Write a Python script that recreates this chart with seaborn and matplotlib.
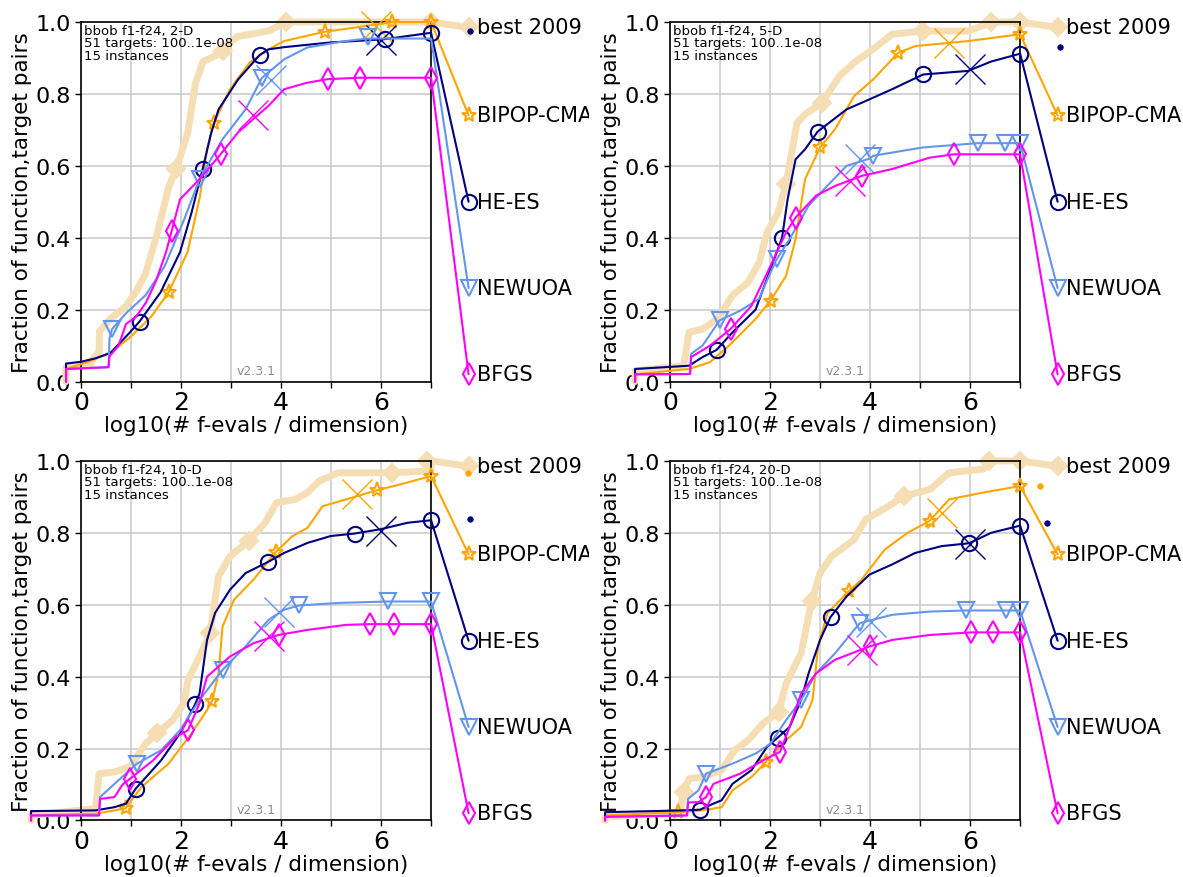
import pandas as pd
import matplotlib
matplotlib.use("Agg")
import matplotlib.pyplot as plt
import seaborn as sns
from matplotlib.transforms import Bbox, TransformedBbox

# ---------------------------------------------------------------------------
# ECDF curves: (log10(#f-evals / dim), fraction) pairs
# ---------------------------------------------------------------------------

# ---- 2-D
best_2d = [(-0.3, 0.0), (-0.3, 0.04), (0.2, 0.05), (0.27, 0.07), (0.36, 0.08), (0.37, 0.14),
           (0.59, 0.175), (0.9, 0.21), (1.1, 0.25), (1.29, 0.30), (1.52, 0.41), (1.75, 0.54),
           (1.9, 0.59), (2.13, 0.69), (2.29, 0.83), (2.44, 0.89), (2.75, 0.91), (2.85, 0.93),
           (3.14, 0.96), (3.75, 0.975), (4.1, 1.0), (7.0, 1.0)]
best_2d_marks = [(1.9, 0.59), (2.83, 0.92), (4.1, 1.0), (7.0, 1.0)]

bipop_2d = [(-0.3, 0.0), (-0.3, 0.035), (0.13, 0.054), (0.59, 0.08), (0.98, 0.123), (1.4, 0.18),
            (1.75, 0.248), (2.13, 0.36), (2.37, 0.51), (2.52, 0.646), (2.65, 0.718), (2.98, 0.813),
            (3.37, 0.887), (3.75, 0.924), (4.06, 0.947), (4.88, 0.973), (5.76, 0.99), (6.22, 1.0),
            (7.0, 1.0)]
bipop_2d_marks = [(1.75, 0.248), (2.65, 0.718), (4.88, 0.973), (6.22, 1.0), (7.0, 1.0)]
bipop_2d_cross = (5.9, 0.99)

hees_2d = [(-0.3, 0.0), (-0.3, 0.05), (0.0, 0.055), (0.3, 0.065), (0.59, 0.08), (0.98, 0.137),
           (1.17, 0.167), (1.59, 0.248), (1.98, 0.36), (2.21, 0.47), (2.43, 0.59), (2.6, 0.69),
           (2.75, 0.757), (3.14, 0.84), (3.57, 0.908), (3.75, 0.924), (4.06, 0.93), (4.98, 0.943),
           (6.06, 0.952), (7.0, 0.97)]
hees_2d_marks = [(1.17, 0.167), (2.43, 0.59), (3.57, 0.908), (6.08, 0.954), (7.0, 0.97)]
hees_2d_cross = (6.0, 0.95)

newuoa_2d = [(-0.3, 0.0), (-0.3, 0.035), (0.55, 0.04), (0.57, 0.12), (0.62, 0.146), (0.9, 0.19),
             (1.29, 0.24), (1.67, 0.32), (2.06, 0.45), (2.37, 0.563), (2.83, 0.674), (3.29, 0.757),
             (3.62, 0.845), (4.06, 0.896), (4.52, 0.929), (5.29, 0.947), (5.73, 0.954), (7.0, 0.954)]
newuoa_2d_marks = [(0.62, 0.146), (2.37, 0.563), (3.62, 0.845), (5.73, 0.959)]
newuoa_2d_cross = (3.8, 0.84)

bfgs_2d = [(-0.3, 0.0), (-0.3, 0.035), (0.55, 0.04), (0.57, 0.07), (0.75, 0.1), (0.8, 0.12),
           (0.9, 0.16), (1.1, 0.18), (1.3, 0.22), (1.5, 0.28), (1.7, 0.36), (1.81, 0.418),
           (1.98, 0.507), (2.37, 0.563), (2.79, 0.632), (3.14, 0.693), (3.75, 0.767), (4.06, 0.813),
           (4.52, 0.831), (4.93, 0.841), (5.57, 0.845), (7.0, 0.845)]
bfgs_2d_marks = [(1.81, 0.418), (2.79, 0.632), (4.93, 0.841), (5.57, 0.845), (7.0, 0.845)]
bfgs_2d_cross = (3.44, 0.74)

dots_2d = [("navy", 7.77, 0.974)]

# ---- 5-D
best_5d = [(-0.7, 0.0), (-0.7, 0.03), (0.27, 0.044), (0.38, 0.137), (0.65, 0.146), (0.95, 0.174),
           (1.25, 0.24), (1.56, 0.276), (1.78, 0.33), (1.94, 0.415), (2.16, 0.47), (2.32, 0.549),
           (2.54, 0.72), (2.7, 0.743), (3.04, 0.776), (3.39, 0.85), (3.68, 0.887), (4.06, 0.924),
           (4.44, 0.966), (5.05, 0.975), (5.96, 0.975), (6.26, 0.99), (6.42, 1.0), (7.0, 1.0)]
best_5d_marks = [(2.32, 0.549), (3.04, 0.776), (5.05, 0.975), (6.42, 1.0), (7.0, 1.0)]

bipop_5d = [(-0.7, 0.0), (-0.7, 0.02), (0.38, 0.035), (0.8, 0.054), (1.18, 0.1), (1.71, 0.174),
            (2.01, 0.225), (2.32, 0.294), (2.51, 0.396), (2.7, 0.563), (3.0, 0.651), (3.3, 0.702),
            (3.68, 0.794), (4.06, 0.84), (4.56, 0.914), (4.9, 0.933), (5.96, 0.947), (7.0, 0.966)]
bipop_5d_marks = [(2.01, 0.225), (3.0, 0.651), (4.56, 0.914), (7.0, 0.966)]
bipop_5d_cross = (5.58, 0.942)

hees_5d = [(-0.7, 0.0), (-0.7, 0.035), (0.38, 0.044), (0.65, 0.068), (0.93, 0.088), (1.25, 0.137),
           (1.71, 0.2), (2.01, 0.313), (2.24, 0.4), (2.35, 0.506), (2.51, 0.618), (2.7, 0.646),
           (2.95, 0.695), (3.53, 0.757), (3.99, 0.785), (4.44, 0.813), (5.06, 0.854), (5.96, 0.864),
           (6.42, 0.89), (6.95, 0.91), (7.0, 0.912)]
hees_5d_marks = [(0.93, 0.088), (2.24, 0.4), (2.95, 0.695), (5.06, 0.854), (7.0, 0.912)]
hees_5d_cross = (6.0, 0.87)

newuoa_5d = [(-0.7, 0.0), (-0.7, 0.02), (0.4, 0.021), (0.42, 0.077), (0.65, 0.1), (0.99, 0.17),
             (1.4, 0.197), (1.78, 0.23), (2.01, 0.304), (2.13, 0.34), (2.39, 0.396), (2.77, 0.489),
             (3.08, 0.535), (3.53, 0.6), (3.99, 0.62), (4.06, 0.628), (5.05, 0.651), (6.15, 0.663),
             (7.0, 0.663)]
newuoa_5d_marks = [(0.99, 0.17), (2.13, 0.34), (4.06, 0.628), (6.15, 0.663), (6.7, 0.663), (7.0, 0.663)]
newuoa_5d_cross = (3.8, 0.62)

bfgs_5d = [(-0.7, 0.0), (-0.7, 0.02), (0.4, 0.021), (0.42, 0.068), (0.8, 0.1), (1.21, 0.146),
           (1.63, 0.211), (2.01, 0.322), (2.32, 0.415), (2.51, 0.456), (2.92, 0.517), (3.3, 0.544),
           (3.83, 0.572), (4.44, 0.591), (5.2, 0.623), (5.68, 0.632), (7.0, 0.632)]
bfgs_5d_marks = [(1.21, 0.146), (2.51, 0.456), (3.83, 0.572), (5.68, 0.632), (7.0, 0.632)]
bfgs_5d_cross = (3.6, 0.558)

dots_5d = [("navy", 7.8, 0.93)]

# ---- 10-D
best_10d = [(-1.0, 0.0), (-1.0, 0.014), (0.29, 0.033), (0.36, 0.13), (0.67, 0.135), (0.98, 0.149),
            (1.29, 0.214), (1.52, 0.242), (1.83, 0.279), (2.06, 0.326), (2.14, 0.391), (2.37, 0.456),
            (2.58, 0.521), (2.75, 0.679), (2.98, 0.735), (3.35, 0.777), (3.68, 0.828), (3.91, 0.884),
            (4.29, 0.893), (4.53, 0.912), (4.76, 0.944), (5.14, 0.967), (6.22, 0.967), (7.0, 0.972),
            (7.0, 1.0)]
best_10d_marks = [(1.52, 0.242), (2.58, 0.521), (3.35, 0.777), (6.22, 0.967), (6.92, 1.0)]

bipop_10d = [(-1.0, 0.0), (-1.0, 0.014), (0.29, 0.019), (0.67, 0.028), (0.89, 0.034), (1.21, 0.093),
             (1.75, 0.158), (2.21, 0.242), (2.52, 0.307), (2.62, 0.332), (2.75, 0.409), (2.83, 0.54),
             (3.06, 0.614), (3.45, 0.67), (3.89, 0.746), (4.22, 0.79), (4.53, 0.814), (4.83, 0.874),
             (5.3, 0.893), (5.91, 0.918), (6.53, 0.94), (7.0, 0.958)]
bipop_10d_marks = [(0.89, 0.034), (2.62, 0.332), (3.89, 0.746), (5.91, 0.918), (7.0, 0.958)]
bipop_10d_cross = (5.51, 0.907)

hees_10d = [(-1.0, 0.0), (-1.0, 0.026), (0.29, 0.028), (0.67, 0.037), (0.9, 0.047), (1.09, 0.088),
            (1.6, 0.167), (1.98, 0.242), (2.28, 0.323), (2.37, 0.353), (2.52, 0.502), (2.68, 0.577),
            (2.98, 0.642), (3.29, 0.688), (3.74, 0.719), (4.06, 0.744), (4.53, 0.772), (4.99, 0.791),
            (5.47, 0.798), (5.99, 0.81), (6.53, 0.828), (7.0, 0.835)]
hees_10d_marks = [(1.09, 0.088), (2.28, 0.323), (3.74, 0.719), (5.47, 0.798), (7.0, 0.835)]
hees_10d_cross = (6.0, 0.805)

newuoa_10d = [(-1.0, 0.0), (-1.0, 0.014), (0.36, 0.014), (0.38, 0.065), (0.67, 0.102), (1.12, 0.158),
              (1.6, 0.195), (1.98, 0.251), (2.37, 0.335), (2.83, 0.419), (3.29, 0.484), (3.75, 0.558),
              (4.06, 0.586), (4.36, 0.598), (5.14, 0.605), (6.13, 0.609), (7.0, 0.609)]
newuoa_10d_marks = [(1.12, 0.158), (2.83, 0.419), (4.36, 0.598), (6.13, 0.609), (7.0, 0.609)]
newuoa_10d_cross = (3.95, 0.58)

bfgs_10d = [(-1.0, 0.0), (-1.0, 0.014), (0.36, 0.014), (0.38, 0.06), (0.67, 0.065), (0.83, 0.1),
            (0.98, 0.116), (1.44, 0.167), (1.9, 0.233), (2.14, 0.251), (2.37, 0.326), (2.52, 0.4),
            (2.98, 0.456), (3.45, 0.493), (3.95, 0.516), (4.53, 0.53), (5.3, 0.544), (5.78, 0.546),
            (7.0, 0.546)]
bfgs_10d_marks = [(0.98, 0.116), (2.14, 0.251), (3.95, 0.516), (5.78, 0.546), (6.26, 0.546), (7.0, 0.546)]
bfgs_10d_cross = (3.75, 0.512)

dots_10d = [("orange", 7.73, 0.967), ("navy", 7.78, 0.839)]

# ---- 20-D
best_20d = [(-1.3, 0.0), (-1.3, 0.009), (0.19, 0.023), (0.27, 0.079), (0.38, 0.116), (0.65, 0.121),
            (1.03, 0.14), (1.29, 0.195), (1.56, 0.223), (1.86, 0.27), (2.17, 0.302), (2.32, 0.381),
            (2.62, 0.465), (2.83, 0.609), (3.0, 0.688), (3.23, 0.735), (3.68, 0.781), (3.91, 0.837),
            (4.37, 0.874), (4.67, 0.902), (5.2, 0.921), (5.58, 0.967), (6.26, 0.977), (6.38, 1.0),
            (7.0, 1.0)]
best_20d_marks = [(0.27, 0.079), (2.17, 0.302), (2.83, 0.609), (4.67, 0.902), (6.38, 1.0), (7.0, 1.0)]

bipop_20d = [(-1.3, 0.0), (-1.3, 0.014), (0.15, 0.023), (0.65, 0.028), (1.03, 0.037), (1.25, 0.084),
             (1.63, 0.121), (1.92, 0.163), (2.32, 0.223), (2.62, 0.26), (2.85, 0.335), (2.96, 0.484),
             (3.15, 0.577), (3.57, 0.637), (3.83, 0.67), (4.29, 0.753), (4.75, 0.8), (5.19, 0.833),
             (5.58, 0.893), (6.26, 0.912), (7.0, 0.93)]
bipop_20d_marks = [(0.15, 0.023), (1.92, 0.163), (3.57, 0.637), (5.19, 0.833), (7.0, 0.93)]
bipop_20d_cross = (5.43, 0.856)

hees_20d = [(-1.3, 0.0), (-1.3, 0.023), (0.27, 0.028), (0.6, 0.03), (0.87, 0.047), (1.03, 0.056),
            (1.25, 0.102), (1.63, 0.14), (1.94, 0.205), (2.15, 0.23), (2.39, 0.26), (2.62, 0.335),
            (2.77, 0.409), (3.0, 0.502), (3.21, 0.566), (3.53, 0.623), (3.99, 0.684), (4.44, 0.712),
            (4.9, 0.744), (5.43, 0.763), (5.98, 0.771), (6.42, 0.8), (7.0, 0.82)]
hees_20d_marks = [(0.6, 0.03), (2.15, 0.23), (3.21, 0.566), (5.98, 0.771), (7.0, 0.82)]
hees_20d_cross = (6.0, 0.77)

newuoa_20d = [(-1.3, 0.0), (-1.3, 0.01), (0.34, 0.014), (0.36, 0.06), (0.57, 0.084), (0.72, 0.13),
              (1.25, 0.158), (1.71, 0.186), (2.01, 0.214), (2.32, 0.279), (2.62, 0.335), (2.92, 0.409),
              (3.3, 0.465), (3.68, 0.53), (3.8, 0.549), (4.44, 0.572), (5.2, 0.581), (5.91, 0.584),
              (7.0, 0.584)]
newuoa_20d_marks = [(0.72, 0.13), (2.62, 0.335), (3.8, 0.549), (5.91, 0.584), (6.72, 0.584), (7.0, 0.584)]
newuoa_20d_cross = (4.02, 0.553)

bfgs_20d = [(-1.3, 0.0), (-1.3, 0.01), (0.34, 0.014), (0.36, 0.05), (0.57, 0.051), (0.72, 0.065),
            (0.87, 0.102), (1.4, 0.13), (1.86, 0.167), (2.2, 0.191), (2.39, 0.26), (2.62, 0.353),
            (2.92, 0.409), (3.3, 0.447), (3.99, 0.484), (4.44, 0.502), (5.2, 0.516), (6.02, 0.523),
            (7.0, 0.523)]
bfgs_20d_marks = [(0.72, 0.065), (2.2, 0.191), (3.99, 0.484), (6.02, 0.523), (6.46, 0.523), (7.0, 0.523)]
bfgs_20d_cross = (3.84, 0.475)

dots_20d = [("orange", 7.39, 0.93), ("navy", 7.53, 0.828)]

NAMES = ["best 2009", "BIPOP-CMA", "HE-ES", "NEWUOA", "BFGS"]
COLORS = ["wheat", "orange", "navy", "cornflowerblue", "magenta"]
MARKERS = ["D", "*", "o", "v", "d"]
MSIZES = [9, 11, 11, 11, 11]
LABEL_Y = [0.985, 0.74, 0.5, 0.26, 0.02]
LABEL_X = 7.75

PANELS = [
    (2, [(best_2d, best_2d_marks, None), (bipop_2d, bipop_2d_marks, bipop_2d_cross),
         (hees_2d, hees_2d_marks, hees_2d_cross), (newuoa_2d, newuoa_2d_marks, newuoa_2d_cross),
         (bfgs_2d, bfgs_2d_marks, bfgs_2d_cross)], dots_2d),
    (5, [(best_5d, best_5d_marks, None), (bipop_5d, bipop_5d_marks, bipop_5d_cross),
         (hees_5d, hees_5d_marks, hees_5d_cross), (newuoa_5d, newuoa_5d_marks, newuoa_5d_cross),
         (bfgs_5d, bfgs_5d_marks, bfgs_5d_cross)], dots_5d),
    (10, [(best_10d, best_10d_marks, None), (bipop_10d, bipop_10d_marks, bipop_10d_cross),
          (hees_10d, hees_10d_marks, hees_10d_cross), (newuoa_10d, newuoa_10d_marks, newuoa_10d_cross),
          (bfgs_10d, bfgs_10d_marks, bfgs_10d_cross)], dots_10d),
    (20, [(best_20d, best_20d_marks, None), (bipop_20d, bipop_20d_marks, bipop_20d_cross),
          (hees_20d, hees_20d_marks, hees_20d_cross), (newuoa_20d, newuoa_20d_marks, newuoa_20d_cross),
          (bfgs_20d, bfgs_20d_marks, bfgs_20d_cross)], dots_20d),
]

sns.set_style("ticks")
plt.rcParams["font.family"] = ["DejaVu Sans"]
plt.rcParams["axes.edgecolor"] = "black"
plt.rcParams["axes.linewidth"] = 1.2
plt.rcParams["text.color"] = "black"
plt.rcParams["axes.labelcolor"] = "black"
plt.rcParams["xtick.color"] = "black"
plt.rcParams["ytick.color"] = "black"


def draw_line(ax, pts, color, lw, zorder):
    df = pd.DataFrame(pts, columns=["x", "y"])
    sns.lineplot(data=df, x="x", y="y", ax=ax, sort=False, estimator=None, legend=False,
                 color=color, linewidth=lw, clip_on=False, zorder=zorder)


def draw_marks(ax, pts, color, marker, ms, zorder, filled=False, mew=1.5):
    df = pd.DataFrame(pts, columns=["x", "y"])
    sns.lineplot(data=df, x="x", y="y", ax=ax, sort=False, estimator=None, legend=False,
                 color=color, linestyle="none", marker=marker, markersize=ms,
                 markerfacecolor=color if filled else "none",
                 markeredgecolor=color, markeredgewidth=mew,
                 clip_on=False, zorder=zorder)


def draw_panel(ax, dim, series, dots, clip=None):
    for i, (curve, marks, cross) in enumerate(series):
        c = COLORS[i]
        best = i == 0
        z = 2 if best else 3 + i
        label_pt = (LABEL_X, LABEL_Y[i])
        draw_line(ax, curve + [label_pt], c, 5 if best else 1.5, z)
        draw_marks(ax, marks + [label_pt], c, MARKERS[i], MSIZES[i], z, filled=best)
        if cross is not None:
            draw_marks(ax, [cross], c, "x", 22, z, mew=1.0)
        t = ax.text(LABEL_X + 0.17, LABEL_Y[i], NAMES[i], fontsize=15,
                    ha="left", va="center", clip_on=False)
        if clip is not None:
            t.set_clip_box(clip)
            t.set_clip_on(True)
    for c, x, y in dots:
        draw_marks(ax, [(x, y)], c, "o", 4, 9, filled=True, mew=0.5)

    ax.set_xlim(0, 7)
    ax.set_ylim(0, 1)
    ax.set_xticks(range(8))
    ax.set_xticklabels([str(v) if v % 2 == 0 else "" for v in range(8)], fontsize=18)
    ax.set_yticks([0, 0.2, 0.4, 0.6, 0.8, 1.0])
    ax.set_yticklabels(["0.0", "0.2", "0.4", "0.6", "0.8", "1.0"], fontsize=16)
    ax.tick_params(length=4, width=1)
    ax.tick_params(axis="x", pad=2)
    ax.grid(True, color="0.78", linewidth=1.1)
    ax.set_axisbelow(True)
    ax.set_xlabel("log10(# f-evals / dimension)", fontsize=15.5, labelpad=1)
    ax.set_ylabel("Fraction of function,target pairs", fontsize=15.5, labelpad=2)
    ax.text(0.008, 0.995, f"bbob f1-f24, {dim}-D\n51 targets: 100..1e-08\n15 instances",
            transform=ax.transAxes, fontsize=9.5, ha="left", va="top", linespacing=0.95)
    ax.text(0.5, 0.03, "v2.3.1", transform=ax.transAxes, fontsize=9, color="0.55",
            ha="center", va="center")


fig = plt.figure(figsize=(11.83, 8.78), dpi=100)
positions = [
    [0.0685, 0.5643, 0.2959, 0.4095],
    [0.5664, 0.5643, 0.2959, 0.4095],
    [0.0685, 0.0644, 0.2959, 0.4095],
    [0.5664, 0.0644, 0.2959, 0.4095],
]
left_clip = TransformedBbox(Bbox([[0, 0], [589 / 1183, 1]]), fig.transFigure)
for k, (dim, series, dots) in enumerate(PANELS):
    ax = fig.add_axes(positions[k])
    draw_panel(ax, dim, series, dots, clip=left_clip if k % 2 == 0 else None)

fig.savefig("out.png", dpi=100)
